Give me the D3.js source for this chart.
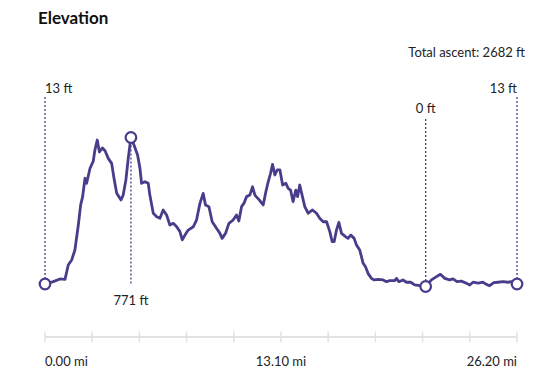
<!DOCTYPE html>
<html>
<head>
<meta charset="utf-8">
<script src="https://cdn.jsdelivr.net/npm/d3@7"></script>
<style>
  html, body { margin: 0; padding: 0; background: #fff; }
  svg { display: block; font-family: Lato, "Open Sans", sans-serif; }
</style>
</head>
<body>
<svg id="chart" width="544" height="382"></svg>
<script>
// ---- data ----
const distanceMi = [
  0.00, 0.46, 0.83, 1.11, 1.29, 1.48, 1.66, 1.85, 1.98, 2.09, 2.22, 2.31, 2.50, 2.68, 2.77, 2.90,
  3.02, 3.19, 3.34, 3.51, 3.70, 3.83, 3.98, 4.10, 4.22, 4.34, 4.49, 4.62, 4.77,
  4.94, 5.14, 5.27, 5.36, 5.55, 5.73, 5.82, 6.01, 6.20, 6.38, 6.56, 6.75, 6.93, 7.12, 7.31, 7.49,
  7.62, 7.77, 7.95, 8.23, 8.41, 8.60, 8.78, 8.91, 9.10, 9.28, 9.52, 9.71, 9.83, 10.02, 10.21, 10.44,
  10.63, 10.76, 10.91, 11.04, 11.19, 11.37, 11.52, 11.65, 11.89, 12.11, 12.26, 12.39, 12.52, 12.63,
  12.76, 12.89, 13.04, 13.19, 13.37, 13.50, 13.63, 13.77, 13.92, 14.02, 14.14, 14.29, 14.42, 14.61,
  14.85, 15.07, 15.25, 15.44, 15.63, 15.81, 15.94, 16.05, 16.18, 16.31, 16.46, 16.68, 16.82, 16.97,
  17.16, 17.29, 17.47, 17.66, 17.79, 17.93, 18.12, 18.27, 18.49, 18.77, 18.95, 19.14, 19.41, 19.51,
  19.64, 19.87, 20.06, 20.30, 20.52, 20.80, 20.98, 21.13, 21.45, 21.73, 21.95, 22.19, 22.46, 22.65,
  22.87, 23.11, 23.39, 23.58, 23.76, 24.04, 24.31, 24.50, 24.68, 24.91, 25.14, 25.42, 25.70, 25.88, 26.20
];
const elevationFt = [
  13, 25, 39, 37, 111, 137, 189, 318, 422, 465, 560, 534, 612, 649, 706, 758,
  696, 717, 701, 663, 637, 560, 482, 465, 448, 473, 551, 663, 771,
  732, 680, 612, 534, 542, 534, 473, 379, 361, 353, 396, 370, 318, 327, 309, 284,
  241, 266, 292, 309, 344, 430, 482, 422, 413, 335, 301, 275, 249, 275, 327, 344,
  370, 339, 413, 430, 465, 473, 516, 473, 448, 422, 490, 542, 586, 632,
  577, 603, 603, 525, 534, 508, 499, 439, 499, 465, 525, 465, 413, 379,
  396, 379, 353, 335, 335, 284, 232, 232, 292, 332, 275, 258, 249, 266,
  249, 215, 189, 120, 102, 68, 42, 34, 37, 34, 25, 30, 30, 42,
  25, 34, 22, 22, 8, 4, 3, 0, 34, 51, 63, 42, 34, 39,
  25, 28, 17, 8, 22, 17, 22, 11, 4, 20, 22, 25, 22, 25, 13
];
const totalAscentFt = 2682;
const axisTickValues = [0, 2.62, 5.24, 7.86, 10.48, 13.1, 15.72, 18.34, 20.96, 23.58, 26.2];
const axisLabelValues = [0, 13.1, 26.2];
const axisLabels = ["0.00 mi", "13.10 mi", "26.20 mi"];
const titleText = "Elevation";

// ---- layout ----
const color = "#483d8b";
const textColor = "#222";
const svg = d3.select("#chart");
const data = distanceMi.map((d, i) => ({ x: d, y: elevationFt[i] }));

const x = d3.scaleLinear().domain([0, d3.max(distanceMi)]).range([45, 517]);
const y = d3.scaleLinear().domain([d3.min(elevationFt), d3.max(elevationFt)]).range([286.5, 137.5]);

// title
svg.append("text").attr("x", 38).attr("y", 24)
  .attr("font-size", 17).attr("font-weight", 700).attr("fill", "#111")
  .text(titleText);

svg.append("text").attr("x", 525).attr("y", 57).attr("text-anchor", "end")
  .attr("font-size", 13).attr("fill", textColor)
  .text("Total ascent: " + totalAscentFt + " ft");

// axis
const axisY = 337;
svg.append("line").attr("x1", x(0)).attr("x2", x(26.2)).attr("y1", axisY).attr("y2", axisY)
  .attr("stroke", "#e2e2e2").attr("stroke-width", 2);
svg.selectAll(".tick").data(axisTickValues).join("line")
  .attr("x1", d => x(d)).attr("x2", d => x(d))
  .attr("y1", axisY - 5.5).attr("y2", axisY + 5.5)
  .attr("stroke", "#e2e2e2").attr("stroke-width", 1.5);
svg.selectAll(".axlab").data(axisLabelValues).join("text")
  .attr("x", d => x(d)).attr("y", 366)
  .attr("text-anchor", (d, i) => i === 0 ? "start" : (i === axisLabelValues.length - 1 ? "end" : "middle"))
  .attr("font-size", 13).attr("fill", textColor)
  .text((d, i) => axisLabels[i]);

// markers: start, max, min, end
const iMax = d3.maxIndex(elevationFt);
const iMin = d3.minIndex(elevationFt);
const last = elevationFt.length - 1;
const markers = [
  { i: 0, anchor: "start", pos: "top", labelY: 93, lineTop: 97 },
  { i: iMax, anchor: "middle", pos: "bottom", labelY: 305, lineBottom: 285 },
  { i: iMin, anchor: "middle", pos: "top", labelY: 113, lineTop: 119 },
  { i: last, anchor: "end", pos: "top", labelY: 93, lineTop: 97 }
];

markers.forEach(m => {
  const px = x(distanceMi[m.i]), py = y(elevationFt[m.i]);
  svg.append("line")
    .attr("x1", px).attr("x2", px)
    .attr("y1", m.pos === "top" ? m.lineTop : py)
    .attr("y2", m.pos === "top" ? py : m.lineBottom)
    .attr("stroke", color).attr("stroke-width", 1.3).attr("stroke-dasharray", "2,2");
  svg.append("text").attr("x", px).attr("y", m.labelY)
    .attr("text-anchor", m.anchor).attr("font-size", 13).attr("fill", textColor)
    .text(elevationFt[m.i] + " ft");
});

// profile line
svg.append("path").datum(data)
  .attr("fill", "none").attr("stroke", color).attr("stroke-width", 2.8)
  .attr("stroke-linejoin", "round").attr("stroke-linecap", "round")
  .attr("d", d3.line().x(d => x(d.x)).y(d => y(d.y)));

// circles
svg.selectAll(".mk").data(markers).join("circle")
  .attr("cx", m => x(distanceMi[m.i])).attr("cy", m => y(elevationFt[m.i]))
  .attr("r", 5.3).attr("fill", "#fff").attr("stroke", color).attr("stroke-width", 2.2);
</script>
</body>
</html>
